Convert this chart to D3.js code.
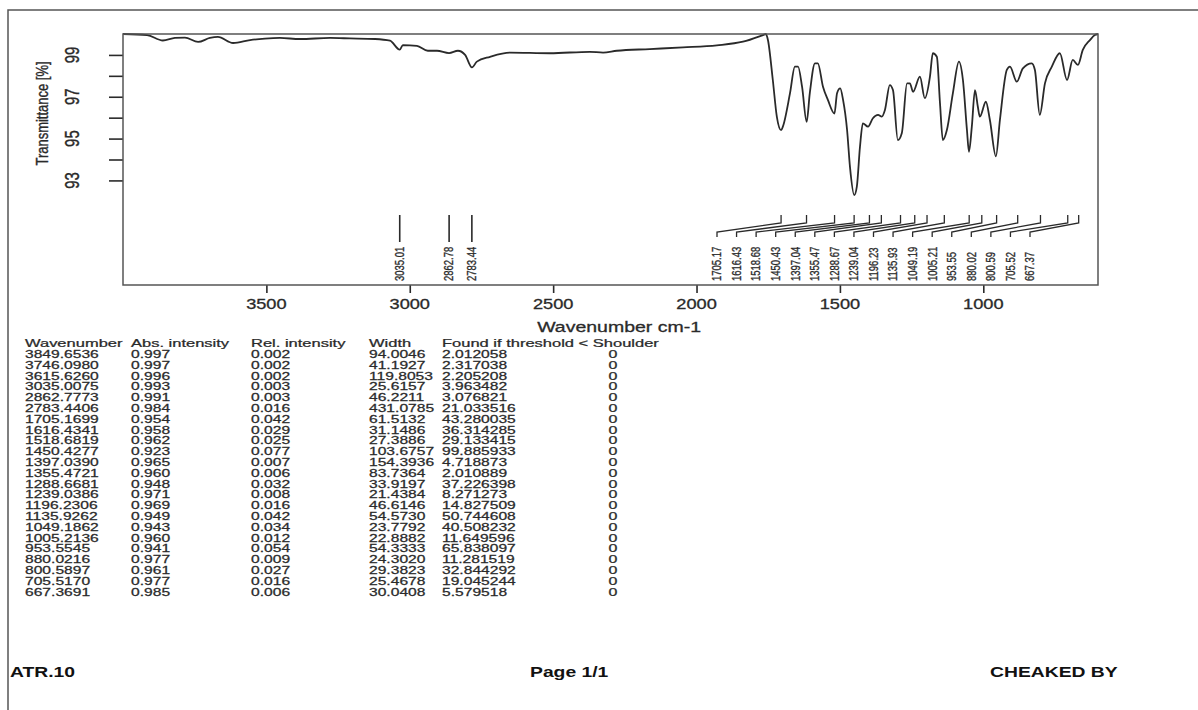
<!DOCTYPE html>
<html>
<head>
<meta charset="utf-8">
<script src="https://cdn.jsdelivr.net/npm/d3@7"></script>
<style>
body { margin: 0; background: #fff; }
svg { display: block; font-family: "Liberation Sans", Arial, sans-serif; }
</style>
</head>
<body>
<svg id="chart" width="1198" height="710"></svg>
<script>
// spectrum trace (wavenumber cm-1, transmittance %)
var traceWavenumber = [4000, 3916, 3861, 3819, 3784, 3738, 3697, 3669, 3616, 3557, 3505, 3453, 3383, 3278, 3209, 3121, 3069,
	3035, 3024, 2975, 2937, 2905, 2863, 2832, 2807, 2783, 2766, 2720, 2651, 2511, 2372, 2326, 2278, 2163, 2047, 1929, 1838,
	1768, 1758, 1751, 1734, 1720, 1705, 1699, 1674, 1657, 1646, 1632, 1616, 1605, 1587, 1577, 1559, 1542, 1519, 1510, 1499,
	1489, 1475, 1465, 1450, 1441, 1430, 1420, 1402, 1385, 1367, 1354, 1343, 1326, 1315, 1298, 1284, 1266, 1256, 1245, 1221,
	1204, 1186, 1176, 1162, 1151, 1141, 1127, 1106, 1085, 1071, 1057, 1050, 1040, 1029, 1019, 1012, 991, 977, 956, 942, 918,
	907, 883, 862, 831, 820, 803, 785, 761, 733, 708, 688, 670, 653, 628, 611, 600];
var traceTransmittance = [100.0, 99.95, 99.69, 99.81, 99.83, 99.62, 99.81, 99.86, 99.57, 99.71, 99.78, 99.81, 99.76, 99.81, 99.79, 99.76, 99.68,
	99.25, 99.47, 99.43, 99.20, 99.20, 99.09, 99.20, 99.00, 98.40, 98.68, 98.91, 99.11, 99.08, 99.15, 99.11, 99.20, 99.28, 99.36, 99.46, 99.63,
	99.95, 100.0, 99.71, 97.80, 96.05, 95.40, 95.57, 97.17, 98.44, 98.44, 97.48, 95.80, 97.17, 98.60, 98.60, 97.48, 96.85, 96.20, 97.17, 97.40,
	96.85, 95.41, 93.66, 92.30, 92.70, 94.61, 95.73, 95.57, 95.97, 96.13, 96.05, 96.37, 97.56, 97.32, 94.93, 95.27, 97.64, 97.64, 97.24, 97.96,
	96.93, 97.96, 99.08, 98.91, 96.69, 94.93, 95.41, 97.17, 98.68, 97.80, 95.41, 94.37, 95.57, 97.32, 96.52, 96.05, 96.76, 95.89, 94.15, 95.89, 98.28,
	98.44, 97.72, 98.36, 98.60, 98.28, 96.13, 97.64, 98.44, 99.08, 97.80, 98.76, 98.52, 99.24, 99.71, 99.95, 100.0];

// peak table
var peakWavenumber = ["3849.6536", "3746.0980", "3615.6260", "3035.0075", "2862.7773", "2783.4406", "1705.1699", "1616.4341",
	"1518.6819", "1450.4277", "1397.0390", "1355.4721", "1288.6681", "1239.0386", "1196.2306", "1135.9262", "1049.1862",
	"1005.2136", "953.5545", "880.0216", "800.5897", "705.5170", "667.3691"];
var absIntensity = ["0.997", "0.997", "0.996", "0.993", "0.991", "0.984", "0.954", "0.958", "0.962", "0.923", "0.965", "0.960",
	"0.948", "0.971", "0.969", "0.949", "0.943", "0.960", "0.941", "0.977", "0.961", "0.977", "0.985"];
var relIntensity = ["0.002", "0.002", "0.002", "0.003", "0.003", "0.016", "0.042", "0.029", "0.025", "0.077", "0.007", "0.006",
	"0.032", "0.008", "0.016", "0.042", "0.034", "0.012", "0.054", "0.009", "0.027", "0.016", "0.006"];
var peakWidth = ["94.0046", "41.1927", "119.8053", "25.6157", "46.2211", "431.0785", "61.5132", "31.1486", "27.3886", "103.6757",
	"154.3936", "83.7364", "33.9197", "21.4384", "46.6146", "54.5730", "23.7792", "22.8882", "54.3333", "24.3020", "29.3823",
	"25.4678", "30.0408"];
var foundThreshold = ["2.012058", "2.317038", "2.205208", "3.963482", "3.076821", "21.033516", "43.280035", "36.314285",
	"29.133415", "99.885933", "4.718873", "2.010889", "37.226398", "8.271273", "14.827509", "50.744608", "40.508232",
	"11.649596", "65.838097", "11.281519", "32.844292", "19.045244", "5.579518"];
var shoulder = ["0", "0", "0", "0", "0", "0", "0", "0", "0", "0", "0", "0", "0", "0", "0", "0", "0", "0", "0", "0", "0", "0", "0"];

var tableHeader = ["Wavenumber", "Abs. intensity", "Rel. intensity", "Width", "Found if threshold < Shoulder"];
var xTicks = [3500, 3000, 2500, 2000, 1500, 1000];
var yTicks = [93, 94, 95, 96, 97, 98, 99];
var yTickLabels = [93, 95, 97, 99];
var footerText = ["ATR.10", "Page 1/1", "CHEAKED BY"];

function plot_spectrum() {

	var margin = {top: 34, left: 123},
		width = 975,
		height = 251;

	var stretch = 1.3; // the scan is wider than tall, so is the text
	var ink = "#2a2a2a";

	var svg = d3.select("#chart");

	// page frame
	svg.append("rect")
		.attr("x", 8).attr("y", 10)
		.attr("width", 1300).attr("height", 800)
		.attr("fill", "none")
		.attr("stroke", "#555")
		.attr("stroke-width", 1.5);

	var x = d3.scaleLinear()
		.domain([4000, 600])
		.range([0, width]);

	var y = d3.scaleLinear()
		.domain([88, 100])
		.range([height, 0]);

	var g = svg.append("g")
		.attr("transform", "translate(" + margin.left + "," + margin.top + ")");

	// axes, R style: ticks outside, box around
	var xAxis = d3.axisBottom(x)
		.tickValues(xTicks)
		.tickSize(8)
		.tickFormat("");
	g.append("g")
		.attr("transform", "translate(0," + height + ")")
		.call(xAxis)
		.call(function(a) { a.select(".domain").remove(); })
		.selectAll("line").attr("stroke", ink).attr("stroke-width", 1.6);

	var yAxis = d3.axisLeft(y)
		.tickValues(yTicks)
		.tickSize(14)
		.tickFormat("");
	g.append("g")
		.call(yAxis)
		.call(function(a) { a.select(".domain").remove(); })
		.selectAll("line").attr("stroke", ink).attr("stroke-width", 1.6);

	g.selectAll(".xlab")
		.data(xTicks)
		.enter().append("text")
		.attr("transform", function(d) {
			return "translate(" + x(d) + "," + (height + 24) + ") scale(" + stretch + ",1)";
		})
		.attr("text-anchor", "middle")
		.attr("font-size", "14px")
		.attr("fill", ink)
		.attr("stroke", ink)
		.attr("stroke-width", 0.3)
		.text(function(d) { return d; });

	g.selectAll(".ylab")
		.data(yTickLabels)
		.enter().append("text")
		.attr("transform", function(d) {
			return "translate(-51," + y(d) + ") scale(" + stretch + ",1) rotate(-90)";
		})
		.attr("text-anchor", "middle")
		.attr("dy", "0.35em")
		.attr("font-size", "15px")
		.attr("fill", ink)
		.attr("stroke", ink)
		.attr("stroke-width", 0.3)
		.text(function(d) { return d; });

	g.append("text")
		.attr("transform", "translate(" + (x(2270)) + "," + (height + 47) + ") scale(" + stretch + ",1)")
		.attr("text-anchor", "middle")
		.attr("font-size", "15px")
		.attr("fill", ink)
		.attr("stroke", ink)
		.attr("stroke-width", 0.3)
		.text("Wavenumber cm-1");

	g.append("text")
		.attr("transform", "translate(-81," + y(96.2) + ") scale(" + stretch + ",1) rotate(-90)")
		.attr("text-anchor", "middle")
		.attr("dy", "0.35em")
		.attr("font-size", "13px")
		.attr("fill", ink)
		.attr("stroke", ink)
		.attr("stroke-width", 0.3)
		.text("Transmittance [%]");

	// spectrum
	var pts = traceWavenumber.map(function(w, i) { return [w, traceTransmittance[i]]; });
	var line = d3.line()
		.x(function(d) { return x(d[0]); })
		.y(function(d) { return y(d[1]); })
		.curve(d3.curveMonotoneX);

	g.append("path")
		.datum(pts)
		.attr("d", line)
		.attr("fill", "none")
		.attr("stroke", ink)
		.attr("stroke-width", 1.8);

	g.append("rect")
		.attr("width", width)
		.attr("height", height)
		.attr("fill", "none")
		.attr("stroke", "#555")
		.attr("stroke-width", 1.5);

	// peak labels: first three rows are not labelled
	var labelled = peakWavenumber.slice(3).map(function(s) { return +s; });
	var single = labelled.filter(function(w) { return w > 2000; });
	var crowd = labelled.filter(function(w) { return w < 2000; });

	var tickTop = 181, tickMid = 189, crowdLow = 198, crowdTick = 203, labelBase = 247;

	g.selectAll(".single-tick")
		.data(single)
		.enter().append("line")
		.attr("x1", function(d) { return x(d); })
		.attr("x2", function(d) { return x(d); })
		.attr("y1", tickTop)
		.attr("y2", 208)
		.attr("stroke", ink)
		.attr("stroke-width", 1.6);

	var lx = d3.scalePoint()
		.domain(d3.range(crowd.length))
		.range([594, 907]);

	g.selectAll(".crowd-link")
		.data(crowd)
		.enter().append("polyline")
		.attr("points", function(d, i) {
			return [[x(d), tickTop], [x(d), tickMid], [lx(i), crowdLow], [lx(i), crowdTick]].join(" ");
		})
		.attr("fill", "none")
		.attr("stroke", ink)
		.attr("stroke-width", 1.3);

	var labelPos = single.map(function(d) { return x(d); })
		.concat(crowd.map(function(d, i) { return lx(i); }));

	g.selectAll(".peak-label")
		.data(labelled)
		.enter().append("text")
		.attr("transform", function(d, i) {
			return "translate(" + labelPos[i] + "," + labelBase + ") scale(" + stretch + ",1) rotate(-90)";
		})
		.attr("dy", "0.35em")
		.attr("font-size", "9.5px")
		.attr("fill", ink)
		.attr("stroke", ink)
		.attr("stroke-width", 0.25)
		.text(function(d) { return d.toFixed(2); });

	// peak table
	var colX = [25, 131, 251, 369, 442];
	var columns = [peakWavenumber, absIntensity, relIntensity, peakWidth, foundThreshold];
	var rowY = d3.scaleLinear().domain([0, 1]).range([358, 368.8]);

	svg.selectAll(".table-head")
		.data(tableHeader)
		.enter().append("text")
		.attr("transform", function(d, i) {
			return "translate(" + colX[i] + "," + rowY(-1) + ") scale(1.5,1)";
		})
		.attr("font-size", "11px")
		.attr("fill", ink)
		.attr("stroke", ink)
		.attr("stroke-width", 0.25)
		.text(function(d) { return d; });

	columns.forEach(function(col, c) {
		svg.selectAll(".col-" + c)
			.data(col)
			.enter().append("text")
			.attr("transform", function(d, i) {
				return "translate(" + colX[c] + "," + rowY(i) + ") scale(1.42,1)";
			})
			.attr("font-size", "11px")
			.attr("fill", ink)
			.attr("stroke", ink)
			.attr("stroke-width", 0.25)
			.text(function(d) { return d; });
	});

	svg.selectAll(".col-shoulder")
		.data(shoulder)
		.enter().append("text")
		.attr("transform", function(d, i) {
			return "translate(613," + rowY(i) + ") scale(1.45,1)";
		})
		.attr("text-anchor", "middle")
		.attr("font-size", "11px")
		.attr("fill", ink)
		.attr("stroke", ink)
		.attr("stroke-width", 0.25)
		.text(function(d) { return d; });

	// footer
	var footX = [10, 530, 990];
	svg.selectAll(".footer")
		.data(footerText)
		.enter().append("text")
		.attr("transform", function(d, i) {
			return "translate(" + footX[i] + ",677) scale(1.38,1)";
		})
		.attr("font-size", "14px")
		.attr("font-weight", "bold")
		.attr("fill", "#111")
		.text(function(d) { return d; });
}

plot_spectrum();
</script>
</body>
</html>
